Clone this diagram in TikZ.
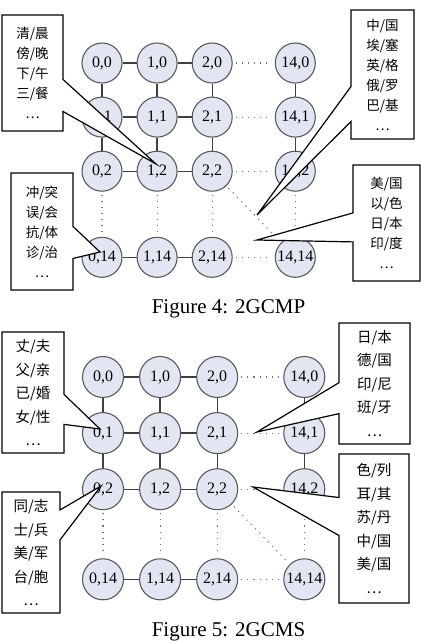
\documentclass[tikz,border=0pt]{standalone}
\usepackage{fontspec}
\setmainfont{Liberation Serif}
\newfontfamily\cjk{Noto Sans CJK SC}
\usepackage{tikz}
\usetikzlibrary{positioning,shapes.callouts}
\definecolor{cellfill}{RGB}{226,230,243}
\definecolor{cellline}{RGB}{90,90,90}

\begin{document}
\begin{tikzpicture}[x=1pt,y=-1pt,
cell/.style={circle,draw=cellline,fill=cellfill,line width=1.1pt,minimum size=40pt,inner sep=-3pt,font=\fontsize{16}{16}\selectfont},
link/.style={draw=black!75,line width=1.4pt},
elided/.style={draw=black!55,line width=1.1pt,dash pattern=on 1.1pt off 5pt,shorten <=3pt,shorten >=3pt},
note/.style={rectangle callout,draw,fill=white,line width=1.2pt,align=center,inner sep=0pt,font=\cjk\fontsize{13.5}{20}\selectfont},
caption/.style={anchor=base,font=\fontsize{21}{24}\selectfont}]
\useasboundingbox (0,0) rectangle (421,641);

% Figure 4: 2GCMP
\begin{scope}[node distance=13pt and 14pt]
\node[cell] (p0-0) at (102,63) {0,0};
\node[cell,right=of p0-0] (p1-0) {1,0};
\node[cell,right=of p1-0] (p2-0) {2,0};
\node[cell,right=42pt of p2-0] (p14-0) {14,0};
\node[cell,below=of p0-0] (p0-1) {0,1};
\node[cell,right=of p0-1] (p1-1) {1,1};
\node[cell,right=of p1-1] (p2-1) {2,1};
\node[cell,right=42pt of p2-1] (p14-1) {14,1};
\node[cell,below=of p0-1] (p0-2) {0,2};
\node[cell,right=of p0-2] (p1-2) {1,2};
\node[cell,right=of p1-2] (p2-2) {2,2};
\node[cell,right=42pt of p2-2] (p14-2) {14,2};
\node[cell,below=45pt of p0-2] (p0-14) {0,14};
\node[cell,right=of p0-14] (p1-14) {1,14};
\node[cell,right=of p1-14] (p2-14) {2,14};
\node[cell,right=42pt of p2-14] (p14-14) {14,14};
\end{scope}
\draw[link] (p0-0) -- (p1-0) -- (p2-0);
\draw[link] (p0-1) -- (p1-1) -- (p2-1);
\draw[link] (p0-2) -- (p1-2) -- (p2-2);
\draw[link] (p0-14) -- (p1-14) -- (p2-14);
\draw[link] (p0-0) -- (p0-1) -- (p0-2);
\draw[link] (p1-0) -- (p1-1) -- (p1-2);
\draw[link] (p2-0) -- (p2-1) -- (p2-2);
\draw[link] (p14-0) -- (p14-1) -- (p14-2);
\draw[elided] (p2-0) -- (p14-0);
\draw[elided] (p2-1) -- (p14-1);
\draw[elided] (p2-2) -- (p14-2);
\draw[elided] (p2-14) -- (p14-14);
\draw[elided] (p0-2) -- (p0-14);
\draw[elided] (p1-2) -- (p1-14);
\draw[elided] (p2-2) -- (p2-14);
\draw[elided] (p14-2) -- (p14-14);
\draw[elided] (p2-2) -- (p14-14);
% callouts
\coordinate (tipA) at (156,164);
\coordinate (tipB) at (257,215);
\coordinate (tipC) at (100,252);
\coordinate (tipD) at (257,240);
\node[note,minimum width=61pt,minimum height=116pt,callout absolute pointer={(tipA)},callout pointer width=32pt] (daytime) at (32.5,73) {清/晨\\傍/晚\\下/午\\三/餐\\…};
\node[note,minimum width=63pt,minimum height=129pt,callout absolute pointer={(tipB)},callout pointer width=35pt] (nationA) at (382.5,74.5) {中/国\\埃/塞\\英/格\\俄/罗\\巴/基\\…};
\node[note,minimum width=62pt,minimum height=117pt,callout absolute pointer={(tipC)},callout pointer width=32pt] (medical) at (42,231.5) {冲/突\\误/会\\抗/体\\诊/治\\…};
\node[note,minimum width=67pt,minimum height=116pt,callout absolute pointer={(tipD)},callout pointer width=29pt] (nationB) at (386.5,223) {美/国\\以/色\\日/本\\印/度\\…};
\node[caption] (cap4) at (228.5,313) {Figure 4: 2GCMP};

% Figure 5: 2GCMS
\begin{scope}[node distance=14pt and 15pt,cell/.append style={minimum size=41pt}]
\node[cell] (s0-0) at (103,377) {0,0};
\node[cell,right=of s0-0] (s1-0) {1,0};
\node[cell,right=of s1-0] (s2-0) {2,0};
\node[cell,right=45pt of s2-0] (s14-0) {14,0};
\node[cell,below=of s0-0] (s0-1) {0,1};
\node[cell,right=of s0-1] (s1-1) {1,1};
\node[cell,right=of s1-1] (s2-1) {2,1};
\node[cell,right=45pt of s2-1] (s14-1) {14,1};
\node[cell,below=of s0-1] (s0-2) {0,2};
\node[cell,right=of s0-2] (s1-2) {1,2};
\node[cell,right=of s1-2] (s2-2) {2,2};
\node[cell,right=45pt of s2-2] (s14-2) {14,2};
\node[cell,below=48pt of s0-2] (s0-14) {0,14};
\node[cell,right=of s0-14] (s1-14) {1,14};
\node[cell,right=of s1-14] (s2-14) {2,14};
\node[cell,right=45pt of s2-14] (s14-14) {14,14};
\end{scope}
\draw[link] (s0-0) -- (s1-0) -- (s2-0);
\draw[link] (s0-1) -- (s1-1) -- (s2-1);
\draw[link] (s0-2) -- (s1-2) -- (s2-2);
\draw[link] (s0-14) -- (s1-14) -- (s2-14);
\draw[link] (s0-0) -- (s0-1) -- (s0-2);
\draw[link] (s1-0) -- (s1-1) -- (s1-2);
\draw[link] (s2-0) -- (s2-1) -- (s2-2);
\draw[link] (s14-0) -- (s14-1) -- (s14-2);
\draw[elided] (s2-0) -- (s14-0);
\draw[elided] (s2-1) -- (s14-1);
\draw[elided] (s2-2) -- (s14-2);
\draw[elided] (s2-14) -- (s14-14);
\draw[elided] (s0-2) -- (s0-14);
\draw[elided] (s1-2) -- (s1-14);
\draw[elided] (s2-2) -- (s2-14);
\draw[elided] (s14-2) -- (s14-14);
\draw[elided] (s2-2) -- (s14-14);
% callouts
\coordinate (tipE) at (100,429);
\coordinate (tipF) at (101,486);
\coordinate (tipG) at (257,432);
\coordinate (tipH) at (253,487);
\begin{scope}[note/.append style={font=\cjk\fontsize{14.5}{23.5}\selectfont}]
\node[note,minimum width=62pt,minimum height=121pt,callout absolute pointer={(tipE)},callout pointer width=30pt] (kinship) at (33,392.5) {丈/夫\\父/亲\\已/婚\\女/性\\…};
\node[note,minimum width=58pt,minimum height=121pt,callout absolute pointer={(tipF)},callout pointer width=30pt] (comrade) at (31,552.5) {同/志\\士/兵\\美/军\\台/胞\\…};
\node[note,minimum width=71pt,minimum height=121pt,callout absolute pointer={(tipG)},callout pointer width=31pt] (nationC) at (374.5,383.5) {日/本\\德/国\\印/尼\\班/牙\\…};
\node[note,minimum width=70pt,minimum height=149pt,callout absolute pointer={(tipH)},callout pointer width=38pt] (nationD) at (374,528.5) {色/列\\耳/其\\苏/丹\\中/国\\美/国\\…};
\end{scope}
\node[caption] (cap5) at (228.5,636) {Figure 5: 2GCMS};
\end{tikzpicture}
\end{document}
